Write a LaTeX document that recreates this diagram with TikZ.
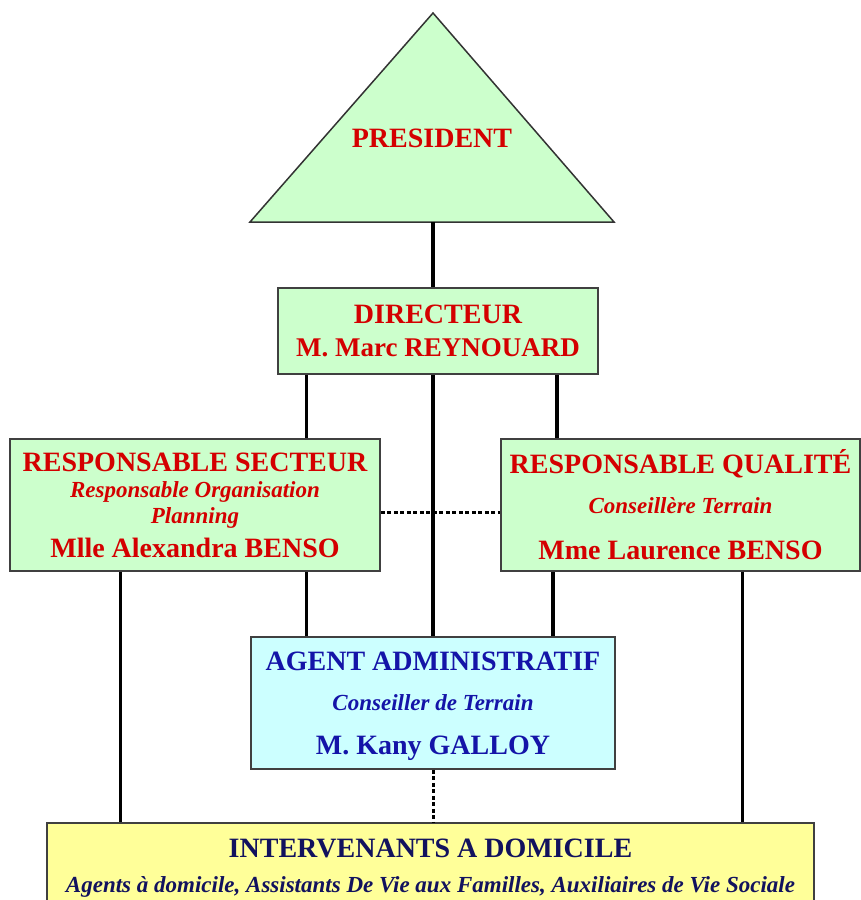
\documentclass[tikz,border=0pt]{standalone}
\usepackage{fontspec}
\setmainfont{Liberation Serif}
\definecolor{vertclair}{HTML}{CCFFCC}
\definecolor{cyanclair}{HTML}{CCFFFF}
\definecolor{jaune}{HTML}{FFFF99}
\definecolor{rouge}{HTML}{D40000}
\definecolor{bleu}{HTML}{1414A8}
\definecolor{marine}{HTML}{12125E}
\newcommand{\titre}{\fontsize{28}{26}\selectfont\bfseries}
\newcommand{\soustitre}{\fontsize{23}{26}\selectfont\bfseries\itshape}
\begin{document}
\begin{tikzpicture}[x=1pt,y=-1pt,
  boite/.style={draw=black!75,line width=1.5pt,align=center,inner sep=0pt,
    font=\fontsize{28}{26}\selectfont\bfseries},
  lien/.style={line width=3.5pt},
  pointille/.style={line width=3pt,dash pattern=on 4pt off 2.5pt}]
\useasboundingbox (0,0) rectangle (861,900);
% president
\draw[fill=vertclair,draw=black!80,line width=1.5pt] (433,13) -- (614,222) -- (250,222) -- cycle;
\node[text=rouge] (pres) at (432,138) {\titre PRESIDENT};
\coordinate (base) at (433,222);
% boites
\node[boite,fill=vertclair,text=rouge,minimum width=320pt,minimum height=86pt] (dir) at (438,331)
  {\titre DIRECTEUR\\[7pt] \fontsize{27}{26}\selectfont\bfseries M. Marc REYNOUARD};
\node[boite,fill=vertclair,text=rouge,minimum width=370pt,minimum height=132pt] (rs) at (195,505)
  {\titre RESPONSABLE SECTEUR\\ \soustitre Responsable Organisation\\ \soustitre Planning\\[8pt]
   \titre Mlle Alexandra BENSO};
\node[boite,fill=vertclair,text=rouge,minimum width=359pt,minimum height=132pt] (rq) at (680.5,505)
  {\titre RESPONSABLE QUALITÉ\\[14pt] \soustitre Conseillère Terrain\\[20pt] \titre Mme Laurence BENSO};
\node[boite,fill=cyanclair,text=bleu,minimum width=364pt,minimum height=132pt,text depth=0pt] (agent) at (433,703)
  {\titre AGENT ADMINISTRATIF\\[14pt] \soustitre Conseiller de Terrain\\[18pt] \titre M. Kany GALLOY};
\node[boite,fill=jaune,text=marine,minimum width=767pt,minimum height=90pt] (interv) at (430.5,868)
  {\titre INTERVENANTS A DOMICILE\\[9pt]
   \soustitre Agents à domicile, Assistants De Vie aux Familles, Auxiliaires de Vie Sociale};
% liens
\draw[lien] (base) -- (base |- dir.north);
\draw[lien] ([xshift=29pt]dir.south west) -- ([xshift=29pt]dir.south west |- rs.north);
\draw[lien] (agent.north) -- (agent.north |- dir.south);
\draw[lien] ([xshift=-42pt]dir.south east) -- ([xshift=-42pt]dir.south east |- rq.north);
\draw[lien] ([xshift=111pt]rs.south west) -- ([xshift=111pt]rs.south west |- interv.north);
\draw[lien] ([xshift=56pt]agent.north west) -- ([xshift=56pt]agent.north west |- rs.south);
\draw[lien] ([xshift=-63pt]agent.north east) -- ([xshift=-63pt]agent.north east |- rq.south);
\draw[lien] ([xshift=242pt]rq.south west) -- ([xshift=242pt]rq.south west |- interv.north);
\draw[pointille] ([yshift=-7pt]rs.east) -- ([yshift=-7pt]rs.east -| rq.west);
\draw[pointille] (agent.south) -- (agent.south |- interv.north);
\end{tikzpicture}
\end{document}
